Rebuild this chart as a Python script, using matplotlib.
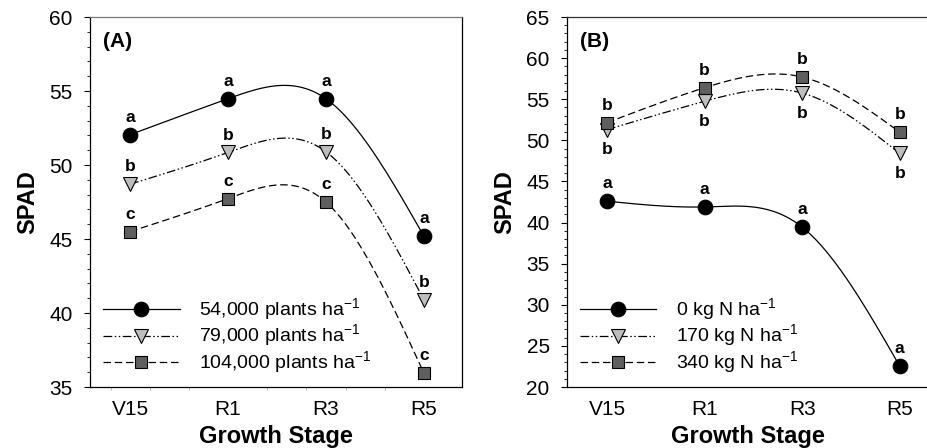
"""
SPAD em estágios de crescimento: (A) densidade de plantas, (B) doses de N.
"""

import numpy as np
import matplotlib
matplotlib.use("Agg")
import matplotlib.pyplot as plt
from matplotlib.lines import Line2D
from matplotlib.ticker import MultipleLocator, FixedLocator

plt.rcParams["font.family"] = ["Liberation Sans", "DejaVu Sans"]

# Dados
estagios = ["V15", "R1", "R3", "R5"]

# (A) densidade
dens_54 = [52.05, 54.48, 54.48, 45.2]
dens_79 = [48.7, 50.85, 50.9, 40.9]
dens_104 = [45.5, 47.73, 47.5, 35.95]
letras_54 = ["a", "a", "a", "a"]
letras_79 = ["b", "b", "b", "b"]
letras_104 = ["c", "c", "c", "c"]
rotulos_a = ["54,000 plants ha$^{\\mathregular{-1}}$",
             "79,000 plants ha$^{\\mathregular{-1}}$",
             "104,000 plants ha$^{\\mathregular{-1}}$"]

# (B) nitrogênio
n_0 = [42.6, 41.9, 39.45, 22.55]
n_170 = [51.3, 54.75, 55.75, 48.4]
n_340 = [52.15, 56.4, 57.7, 51.0]
letras_0 = ["a", "a", "a", "a"]
letras_170 = ["b", "b", "b", "b"]
letras_340 = ["b", "b", "b", "b"]
rotulos_b = ["0 kg N ha$^{\\mathregular{-1}}$",
             "170 kg N ha$^{\\mathregular{-1}}$",
             "340 kg N ha$^{\\mathregular{-1}}$"]

# Estilos das séries
ESTILOS = [
    dict(marker="o", mfc="black", ms=10.5, ls="-"),
    dict(marker="v", mfc="#bdbdbd", ms=10, ls=(0, (7, 2, 1.2, 2, 1.2, 2))),
    dict(marker="s", mfc="#5f5f5f", ms=9, ls=(0, (6, 3))),
]


def spline_natural(y, n=200):
    """Spline cúbica natural com nós igualmente espaçados (h=1)."""
    y = np.asarray(y, float)
    k = len(y)
    A = np.zeros((k, k))
    b = np.zeros(k)
    A[0, 0] = A[-1, -1] = 1
    for i in range(1, k - 1):
        A[i, i - 1:i + 2] = [1, 4, 1]
        b[i] = 6 * (y[i - 1] - 2 * y[i] + y[i + 1])
    M = np.linalg.solve(A, b)
    xs = np.linspace(0, k - 1, n)
    ys = np.empty_like(xs)
    for j, x in enumerate(xs):
        i = min(int(x), k - 2)
        t = x - i
        ys[j] = (M[i] * (1 - t) ** 3 / 6 + M[i + 1] * t ** 3 / 6
                 + (y[i] - M[i] / 6) * (1 - t) + (y[i + 1] - M[i + 1] / 6) * t)
    return xs, ys


def plot_serie(ax, y, letras, estilo, acima=True):
    xs, ys = spline_natural(y)
    ax.plot(xs, ys, color="black", lw=0.9, ls=estilo["ls"], zorder=2)
    ax.plot(range(len(y)), y, ls="none", marker=estilo["marker"],
            mfc=estilo["mfc"], mec="black", mew=0.8, ms=estilo["ms"], zorder=3)
    for i, (v, l) in enumerate(zip(y, letras)):
        dy = 12.5 if acima else -14.5
        ax.annotate(l, (i, v), xytext=(0, dy), textcoords="offset points",
                    ha="center", va="center", fontsize=12.5, fontweight="bold")


def estilo_eixo(ax, ylim, passo, xmax, letra):
    ax.set_xlim(-0.41, xmax)
    ax.set_ylim(*ylim)
    ax.set_xticks(range(4))
    ax.set_xticklabels(estagios)
    ax.yaxis.set_major_locator(MultipleLocator(passo))
    ax.yaxis.set_minor_locator(MultipleLocator(1))
    ax.tick_params(axis="y", which="major", direction="out", length=4.5,
                   width=0.8, labelsize=15, pad=8)
    ax.tick_params(axis="y", which="minor", direction="out", length=2.2, width=0.6)
    ax.tick_params(axis="x", which="major", length=0, labelsize=15, pad=9)
    ax.set_ylabel("SPAD", fontsize=17, fontweight="bold", labelpad=7)
    ax.set_xlabel("Growth Stage", fontsize=17, fontweight="bold", labelpad=5)
    ax.text(0.035, 0.96, letra, transform=ax.transAxes, fontsize=15,
            fontweight="bold", va="top", ha="left")
    for s in ax.spines.values():
        s.set_linewidth(0.9)


def legenda(ax, rotulos):
    handles = [Line2D([], [], color="black", lw=0.9, ls=e["ls"], marker=e["marker"],
                      mfc=e["mfc"], mec="black", mew=0.8, ms=e["ms"])
               for e in ESTILOS]
    ax.legend(handles, rotulos, loc="lower left", bbox_to_anchor=(0.035, 0.03),
              frameon=False, fontsize=14, handlelength=3.95, handletextpad=1.0,
              labelspacing=0.0, borderpad=0, borderaxespad=0)


fig = plt.figure(figsize=(9.28, 4.48), dpi=100)
ax_a = fig.add_axes([90 / 928, 61 / 448, 372 / 928, 370 / 448])
ax_b = fig.add_axes([567 / 928, 61 / 448, 361 / 928, 370 / 448])

# Painel A
plot_serie(ax_a, dens_54, letras_54, ESTILOS[0])
plot_serie(ax_a, dens_79, letras_79, ESTILOS[1])
plot_serie(ax_a, dens_104, letras_104, ESTILOS[2])
estilo_eixo(ax_a, (35, 60), 5, 3.39, "(A)")
ax_a.xaxis.set_minor_locator(FixedLocator(np.arange(-0.2, 3.3, 0.4)))
ax_a.tick_params(axis="x", which="minor", direction="out", length=2.5,
                 width=0.5, color="#999999")
ax_a.spines["top"].set_color("#777777")
legenda(ax_a, rotulos_a)

# Painel B
plot_serie(ax_b, n_0, letras_0, ESTILOS[0])
plot_serie(ax_b, n_170, letras_170, ESTILOS[1], acima=False)
plot_serie(ax_b, n_340, letras_340, ESTILOS[2])
estilo_eixo(ax_b, (20, 65), 5, 3.29, "(B)")
ax_b.spines["top"].set_color("#333333")
ax_b.spines["right"].set_visible(False)
legenda(ax_b, rotulos_b)

fig.savefig("out.png", dpi=100)
